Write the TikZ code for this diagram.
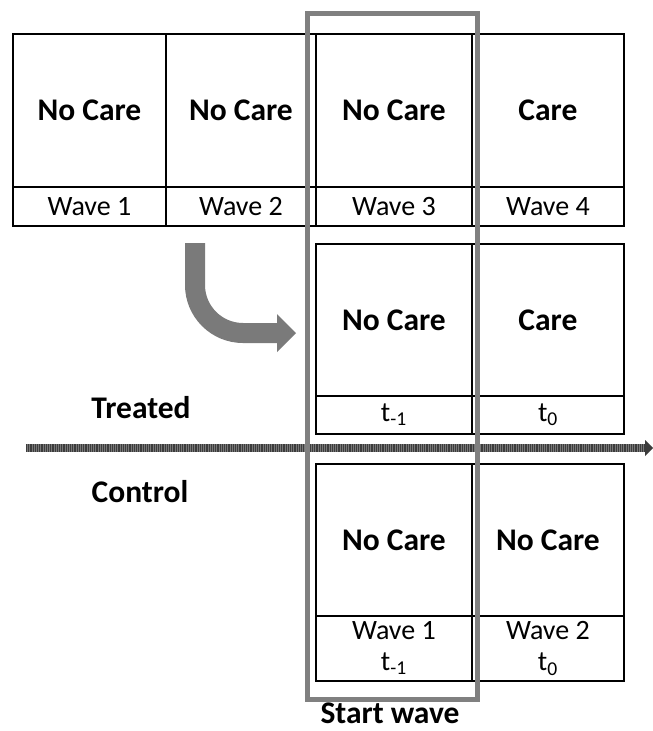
\documentclass[tikz,border=0pt]{standalone}
\usepackage{fontspec}
\setmainfont{Carlito}
\definecolor{framegray}{RGB}{128,128,128}
\definecolor{arrowgray}{RGB}{122,122,122}
\definecolor{axisdark}{RGB}{60,60,60}
\definecolor{axislight}{RGB}{120,120,120}
\begin{document}
\begin{tikzpicture}[x=1pt,y=-1pt,
  cell/.style={draw=black,line width=1.8pt,inner sep=0pt,anchor=north west},
  big/.style={font=\fontsize{31.5}{35}\selectfont\bfseries},
  small/.style={font=\fontsize{28}{34}\selectfont,align=center},
  lbl/.style={font=\fontsize{31.5}{35}\selectfont\bfseries,inner sep=0pt}]
\useasboundingbox (0,0) rectangle (653,731);
\fill[white] (0,0) rectangle (653,731);
% top row
\node[cell,big,minimum width=153pt,minimum height=153pt] (a1) at (12,33) {No Care};
\node[cell,big,minimum width=150pt,minimum height=153pt] (a2) at (165,33) {No Care};
\node[cell,big,minimum width=156pt,minimum height=153pt] (a3) at (315,33) {No Care};
\node[cell,big,minimum width=152pt,minimum height=153pt] (a4) at (471,33) {Care};
\node[cell,small,minimum width=153pt,minimum height=39pt] (w1) at (12,186) {Wave 1};
\node[cell,small,minimum width=150pt,minimum height=39pt] (w2) at (165,186) {Wave 2};
\node[cell,small,minimum width=156pt,minimum height=39pt] (w3) at (315,186) {Wave 3};
\node[cell,small,minimum width=152pt,minimum height=39pt] (w4) at (471,186) {Wave 4};
% middle row (treated)
\node[cell,big,minimum width=156pt,minimum height=152pt] (b1) at (315,243) {No Care};
\node[cell,big,minimum width=152pt,minimum height=152pt] (b2) at (471,243) {Care};
\node[cell,small,minimum width=156pt,minimum height=38pt] (bt1) at (315,395) {t\textsubscript{-1}};
\node[cell,small,minimum width=152pt,minimum height=38pt] (bt2) at (471,395) {t\textsubscript{0}};
% bottom row (control)
\node[cell,big,minimum width=156pt,minimum height=152pt] (c1) at (315,463) {No Care};
\node[cell,big,minimum width=152pt,minimum height=152pt] (c2) at (471,463) {No Care};
\node[cell,small,minimum width=156pt,minimum height=65pt] (ct1) at (315,615) {Wave 1\\[-3pt]t\textsubscript{-1}};
\node[cell,small,minimum width=152pt,minimum height=65pt] (ct2) at (471,615) {Wave 2\\[-3pt]t\textsubscript{0}};
% labels
\node[lbl] (treated) at (141,408) {Treated};
\node[lbl] (control) at (140,492) {Control};
\node[lbl] (start) at (390,713) {Start wave};
% horizontal time axis
\coordinate (ax0) at (26,448);
\coordinate (ax1) at (645,448);
\coordinate (axt) at (653,448);
\draw[axislight,line width=8pt] (ax0) -- (ax1);
\draw[axisdark,line width=8pt,dash pattern=on 1.2pt off 1pt] (ax0) -- (ax1);
\fill[axisdark] (645,440) -- (axt) -- (645,456) -- cycle;
% curved arrow
\coordinate (ca0) at (195,243);
\coordinate (ca1) at (279,333);
\coordinate (catip) at (296,333);
\draw[arrowgray,line width=20pt] (ca0) -- (195,285) arc[start angle=180,end angle=90,x radius=48pt,y radius=-48pt] -- (ca1);
\fill[arrowgray] (277,314) -- (catip) -- (277,352) -- cycle;
% start wave frame
\draw[framegray,line width=5pt] (307,13) rectangle (477,699);
\end{tikzpicture}
\end{document}
